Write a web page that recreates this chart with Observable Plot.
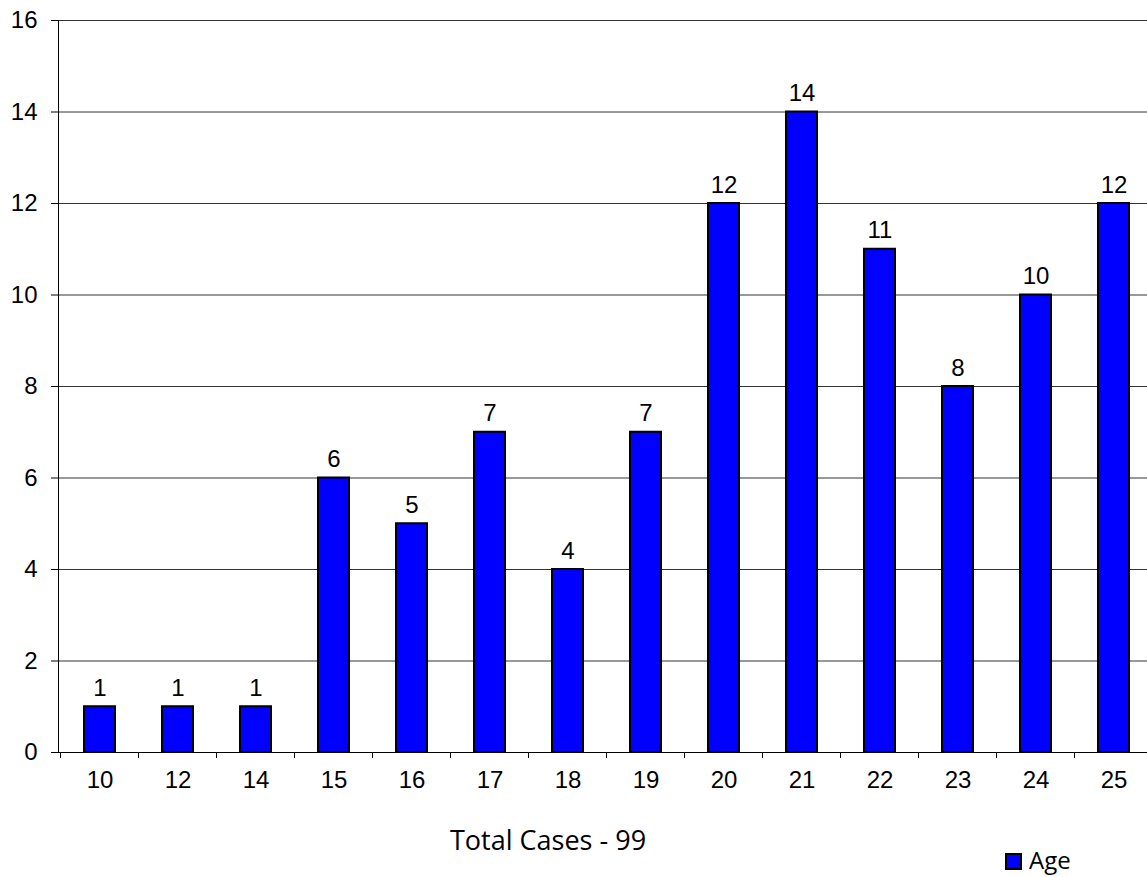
<!DOCTYPE html>
<html>
<head>
<meta charset="utf-8">
<script src="https://cdn.jsdelivr.net/npm/d3@7"></script>
<script src="https://cdn.jsdelivr.net/npm/@observablehq/plot@0.6"></script>
<style>
  html, body { margin: 0; padding: 0; background: #fff; overflow: hidden; width: 1147px; height: 877px; }
  #wrap { position: relative; width: 1147px; height: 877px; }
  #chart svg { overflow: visible; }
  #caption { position: absolute; left: 450px; top: 826px; font-family: "Open Sans", sans-serif; font-size: 27px; line-height: 27px; color: #000; white-space: nowrap; }
  #legend-swatch { position: absolute; left: 1005px; top: 853px; width: 17px; height: 17px; box-sizing: border-box; border: 2px solid #000; background: #0000FF; }
  #legend-label { position: absolute; left: 1029px; top: 848px; font-family: "Open Sans", sans-serif; font-size: 24px; line-height: 24px; color: #000; white-space: nowrap; }
</style>
</head>
<body>
<div id="wrap">
  <div id="chart"></div>
  <div id="caption"></div>
  <div id="legend-swatch"></div>
  <div id="legend-label"></div>
</div>
<script>
// ---- Data ----
const ages = ["10", "12", "14", "15", "16", "17", "18", "19", "20", "21", "22", "23", "24", "25"];
const cases = [1, 1, 1, 6, 5, 7, 4, 7, 12, 14, 11, 8, 10, 12];
const yTicks = [0, 2, 4, 6, 8, 10, 12, 14, 16];
const captionText = "Total Cases - 99";
const seriesName = "Age";

const data = ages.map((a, i) => ({ age: a, n: cases[i] }));

// category boundary ticks drawn from the band scale
function boundaryTicks(index, scales) {
  const x = scales.x, y = scales.y;
  const step = x(ages[1]) - x(ages[0]);
  let bw;
  if (scales.scales && scales.scales.x && typeof scales.scales.x.bandwidth === "number") bw = scales.scales.x.bandwidth;
  else if (typeof x.bandwidth === "function") bw = x.bandwidth();
  else bw = step * 0.4;
  const gap = (step - bw) / 2;
  const pos = ages.map(a => x(a) - gap);
  pos.push(x(ages[ages.length - 1]) + bw + gap);
  const y0 = y(0);
  const g = d3.create("svg:g").attr("stroke", "#000").attr("stroke-width", 1);
  for (const p of pos) {
    g.append("line").attr("x1", p).attr("x2", p).attr("y1", y0).attr("y2", y0 + 6);
  }
  return g.node();
}

const FS = 24;

const chart = Plot.plot({
  width: 1147,
  height: 800,
  marginTop: 20,
  marginBottom: 48,
  marginLeft: 58,
  marginRight: -8,
  style: { fontFamily: "'Liberation Sans', Arial, sans-serif", fontSize: FS + "px", color: "#000", background: "transparent", overflow: "visible" },
  x: { type: "band", domain: ages, paddingInner: 0.6, paddingOuter: 0.3, label: null },
  y: { domain: [0, 16], label: null },
  marks: [
    Plot.gridY(yTicks, { stroke: "#333", strokeOpacity: 1, strokeWidth: 1 }),
    Plot.axisY(yTicks, { tickSize: 7, tickPadding: 14, label: null, stroke: "#000", fontSize: FS }),
    Plot.frame({ anchor: "left", stroke: "#000" }),
    Plot.ruleY([0], { stroke: "#000" }),
    Plot.barY(data, { x: "age", y: "n", fill: "#0000FF", stroke: "#000", strokeWidth: 2 }),
    Plot.text(data, { x: "age", y: "n", text: d => String(d.n), lineAnchor: "bottom", dy: -11, fontSize: FS, fill: "#000" }),
    Plot.axisX({ tickSize: 0, tickPadding: 18, label: null, fontSize: FS }),
    boundaryTicks
  ]
});

document.getElementById("chart").appendChild(chart);
document.getElementById("caption").textContent = captionText;
document.getElementById("legend-label").textContent = seriesName;
</script>
</body>
</html>
